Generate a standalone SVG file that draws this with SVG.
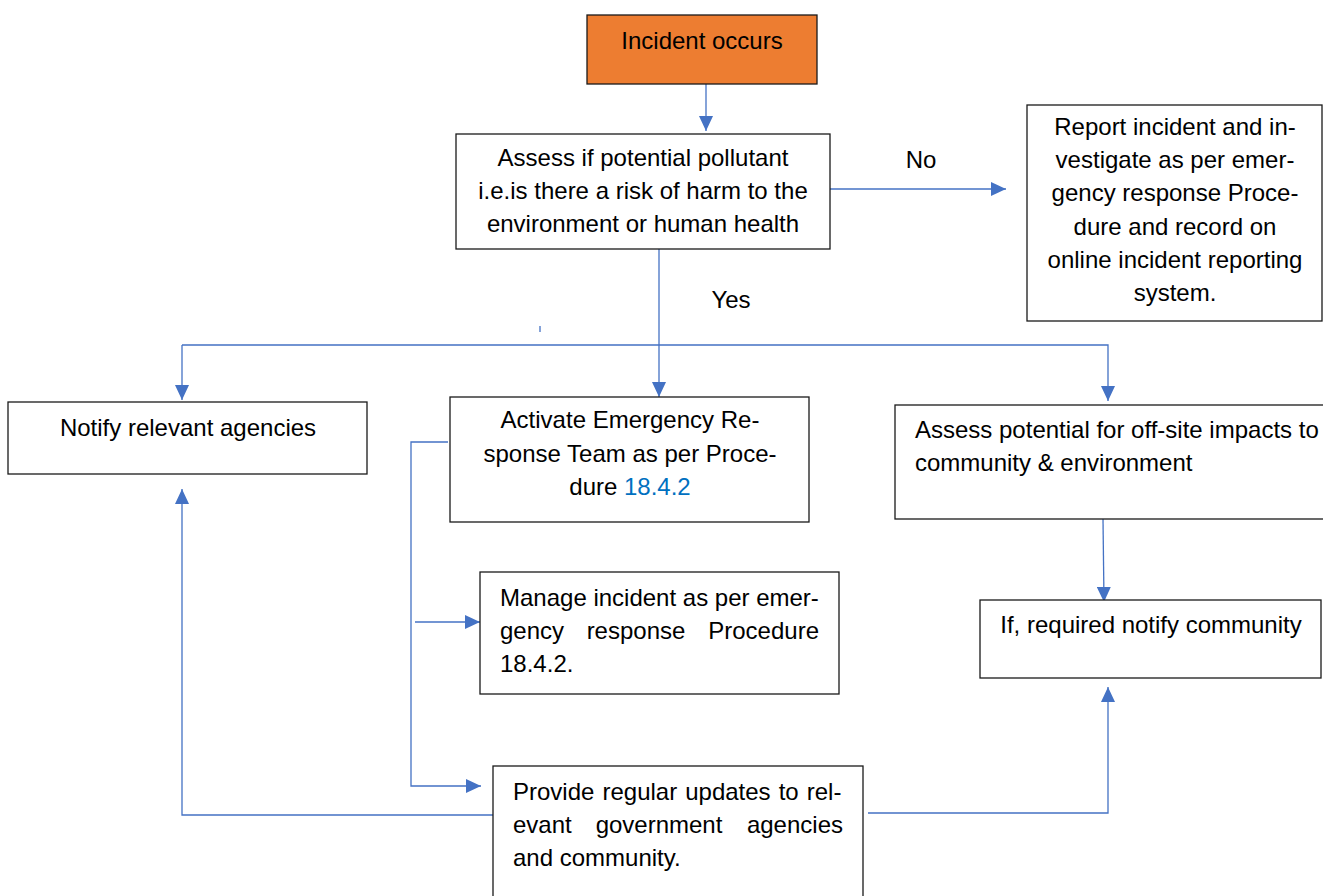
<svg xmlns="http://www.w3.org/2000/svg" width="1323" height="896" viewBox="0 0 1323 896">
<style>
.box{fill:#fff;stroke:#1a1a1a;stroke-width:1.3}
.t{font-family:"Liberation Sans",Arial,sans-serif;font-size:24px;fill:#000}
.c{text-anchor:middle}
.e{text-anchor:end}
.ln{fill:none;stroke:#4472C4;stroke-width:1.3}
.blue{fill:#0070C0}
</style>
<defs>
<marker id="ah" viewBox="0 0 10 10" refX="10" refY="5" markerWidth="15" markerHeight="14" markerUnits="userSpaceOnUse" orient="auto" preserveAspectRatio="none">
<path d="M0,0 L10,5 L0,10 z" fill="#4472C4"/>
</marker>
</defs>
<rect width="1323" height="896" fill="#fff"/>
<g id="connectors">
<path class="ln" d="M706,84 V131" marker-end="url(#ah)"/>
<path class="ln" d="M830,189 H1006" marker-end="url(#ah)"/>
<path class="ln" d="M659,249 V397" marker-end="url(#ah)"/>
<path class="ln" d="M540,326 V332"/>
<path class="ln" d="M182,345 V400" marker-end="url(#ah)"/>
<path class="ln" d="M182,345 H1108 V401" marker-end="url(#ah)"/>
<path class="ln" d="M448,442 H411 V786 H481" marker-end="url(#ah)"/>
<path class="ln" d="M415,622 H480" marker-end="url(#ah)"/>
<path class="ln" d="M497,815 H182 V489" marker-end="url(#ah)"/>
<path class="ln" d="M868,813 H1108 V687" marker-end="url(#ah)"/>
<path class="ln" d="M1103,519 L1104,602" marker-end="url(#ah)"/>
</g>
<g id="labels">
<text class="t c" x="921" y="168">No</text>
<text class="t c" x="731" y="308">Yes</text>
</g>
<g id="incident">
<rect x="587" y="15" width="230" height="69" fill="#ED7D31" stroke="#1a1a1a" stroke-width="1.3"/>
<text class="t c" x="702" y="49">Incident occurs</text>
</g>
<g id="assess">
<rect class="box" x="456" y="134" width="374" height="115"/>
<text class="t c" x="643" y="166">Assess if potential pollutant</text>
<text class="t c" x="643" y="199">i.e.is there a risk of harm to the</text>
<text class="t c" x="643" y="232">environment or human health</text>
</g>
<g id="report">
<rect class="box" x="1027" y="105" width="295" height="216"/>
<text class="t c" x="1175" y="135">Report incident and in-</text>
<text class="t c" x="1175" y="168">vestigate as per emer-</text>
<text class="t c" x="1175" y="201">gency response Proce-</text>
<text class="t c" x="1175" y="235">dure and record on</text>
<text class="t c" x="1175" y="268">online incident reporting</text>
<text class="t c" x="1175" y="301">system.</text>
</g>
<g id="notify">
<rect class="box" x="8" y="402" width="359" height="72"/>
<text class="t c" x="188" y="436">Notify relevant agencies</text>
</g>
<g id="activate">
<rect class="box" x="450" y="397" width="359" height="125"/>
<text class="t c" x="630" y="428">Activate Emergency Re-</text>
<text class="t c" x="630" y="462">sponse Team as per Proce-</text>
<text class="t c" x="630" y="495">dure <tspan class="blue">18.4.2</tspan></text>
</g>
<g id="offsite">
<rect class="box" x="895" y="405" width="440" height="114"/>
<text class="t" x="915" y="438">Assess potential for off-site impacts to</text>
<text class="t" x="915" y="471">community &amp; environment</text>
</g>
<g id="manage">
<rect class="box" x="480" y="572" width="359" height="122"/>
<text class="t" x="500" y="606">Manage incident as per emer-</text>
<text class="t" x="500" y="639">gency</text>
<text class="t c" x="636" y="639">response</text>
<text class="t e" x="819" y="639">Procedure</text>
<text class="t" x="500" y="672">18.4.2.</text>
</g>
<g id="community">
<rect class="box" x="980" y="600" width="341" height="78"/>
<text class="t c" x="1151" y="633">If, required notify community</text>
</g>
<g id="updates">
<rect class="box" x="493" y="766" width="370" height="140"/>
<text class="t" x="513" y="800" word-spacing="1.4">Provide regular updates to rel-</text>
<text class="t" x="513" y="833">evant</text>
<text class="t c" x="659" y="833">government</text>
<text class="t e" x="843" y="833">agencies</text>
<text class="t" x="513" y="866">and community.</text>
</g>
</svg>
